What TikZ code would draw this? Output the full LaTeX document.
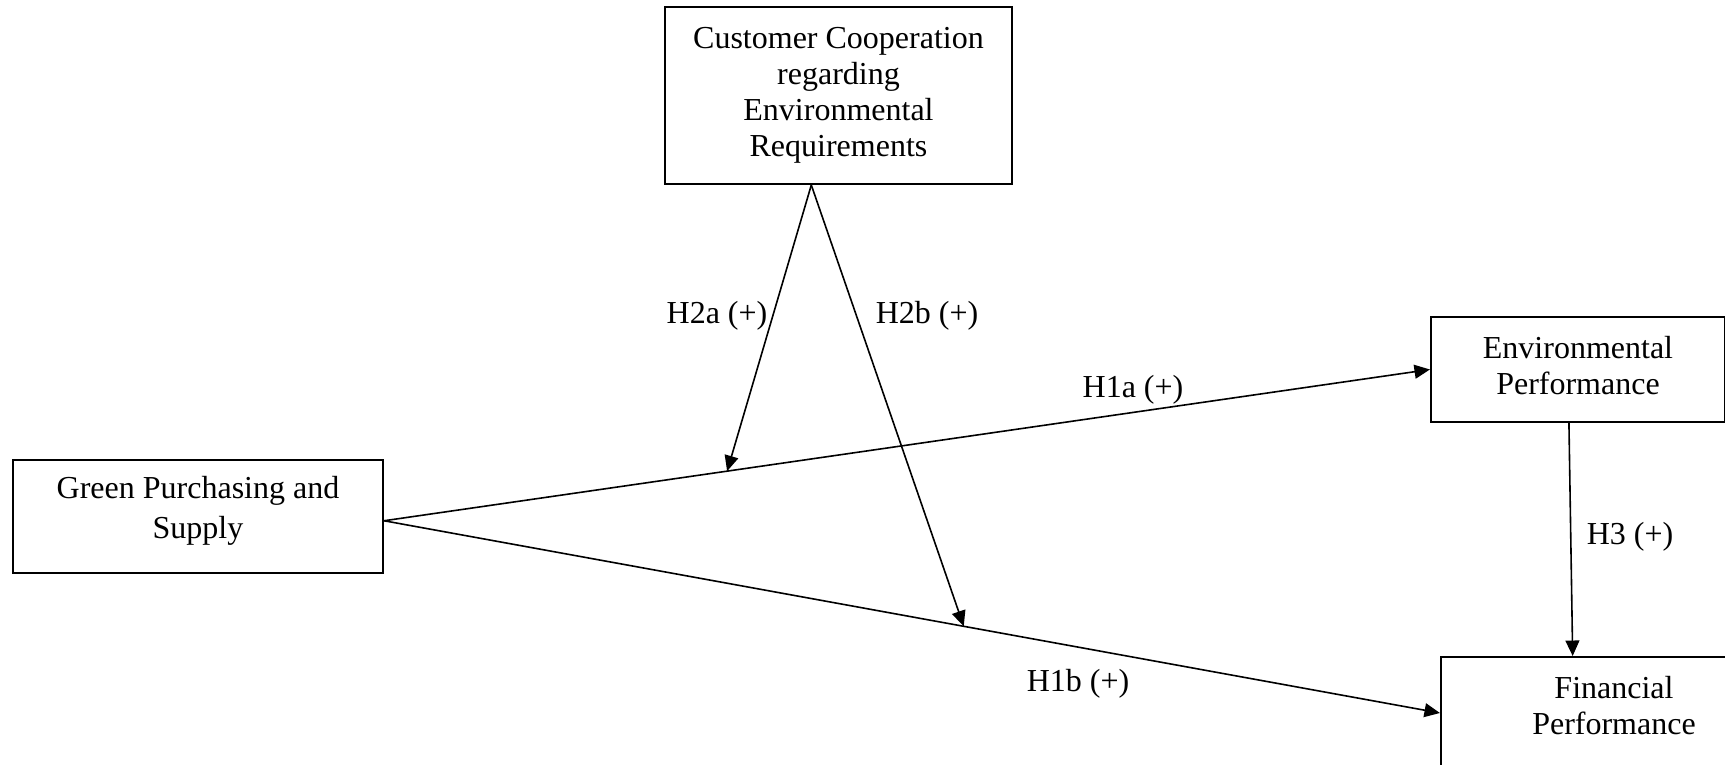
\documentclass[tikz,border=0pt]{standalone}
\usepackage{fontspec}
\setmainfont{Liberation Serif}
\usepackage{tikz}
\usetikzlibrary{positioning,arrows.meta,calc}
\tikzset{
  >={Triangle[length=5.8pt,width=5.2pt]},
  every node/.style={font=\fontsize{12}{13.5}\selectfont},
  % --- nodes
  var/.style  = {draw=black, line width=0.75pt, fill=white, align=center,
                 inner sep=0pt},
  hyp/.style  = {inner sep=1pt},
  % --- edges
  e/.style    = {->, line width=0.6pt, draw=black},
}
\begin{document}
\begin{tikzpicture}[x=0.375pt, y=-0.375pt]
  \useasboundingbox (0,0) rectangle (1725,765);
  \clip (0,0) rectangle (1725,765);

  \node[var, minimum width=130pt, minimum height=66.4pt] (ccer) at (838.5,95.5)
    {Customer Cooperation\\regarding\\Environmental\\Requirements};
  \node[var, minimum width=138.8pt, minimum height=42.4pt] (gps) at (198,516.5)
    {Green Purchasing and\\[1.6pt]Supply\\[-6.8pt]};
  \node[var, minimum width=110.3pt, minimum height=39.4pt] (envp) at (1578,369.5)
    {Environmental\\Performance\\[-10.6pt]};
  \node[var, minimum width=129.8pt, minimum height=42pt] (finp) at (1614,713)
    {Financial\\Performance\\[-7.7pt]};

  % main effects
  \draw[e] ([yshift=-1.6pt]gps.east) -- coordinate[pos=0.328] (m1) (envp.west);
  \draw[e] ([yshift=-1.6pt]gps.east) -- coordinate[pos=0.549] (m2) (finp.west);
  \draw[e] ([xshift=-3.4pt]envp.south) -- ([xshift=-15.5pt]finp.north);

  % moderation
  \draw[e] ([xshift=-10.2pt]ccer.south) -- (m1);
  \draw[e] ([xshift=-10.2pt]ccer.south) -- (m2);

  \node[hyp] (h1a) at (1133,390) {H1a (+)};
  \node[hyp] (h1b) at (1078,684) {H1b (+)};
  \node[hyp] (h2a) at (717,316)  {H2a (+)};
  \node[hyp] (h2b) at (927,316)  {H2b (+)};
  \node[hyp] (h3)  at (1630,537) {H3 (+)};
\end{tikzpicture}
\end{document}
